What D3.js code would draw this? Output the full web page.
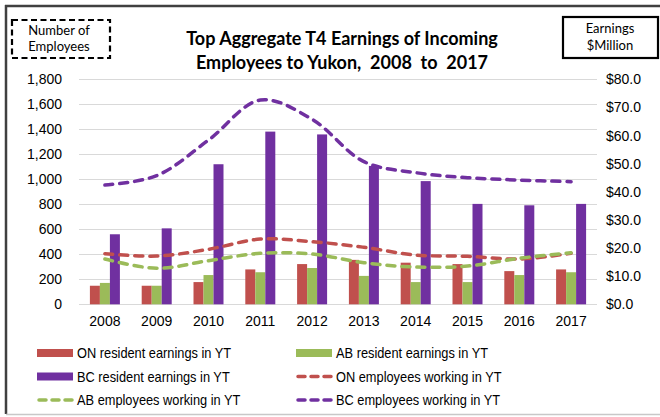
<!DOCTYPE html>
<html>
<head>
<meta charset="utf-8">
<script src="https://cdn.jsdelivr.net/npm/d3@7"></script>
<style>
  body { margin: 0; background: #fff; }
  svg { display: block; }
  .tick text { font-family: "Liberation Sans", Arial, sans-serif; font-size: 14px; fill: #000; }
  .grid line { stroke: #d9d9d9; stroke-width: 1; }
  .legend text { font-family: "Liberation Sans", Arial, sans-serif; font-size: 14px; fill: #000; }
</style>
</head>
<body>
<div id="chart"></div>
<script>
// data
var years = ["2008", "2009", "2010", "2011", "2012", "2013", "2014", "2015", "2016", "2017"];
// earnings, $ million (right axis)
var onEarnings = [6.6, 6.6, 7.9, 12.4, 14.3, 15.8, 14.8, 14.3, 11.8, 12.4];
var abEarnings = [7.6, 6.6, 10.4, 11.4, 12.9, 10.1, 7.9, 7.9, 10.4, 11.4];
var bcEarnings = [24.9, 27.0, 49.8, 61.4, 60.4, 49.2, 43.8, 35.7, 35.2, 35.7];
// employees (left axis)
var onEmployees = [405, 386, 440, 522, 501, 456, 394, 384, 362, 408];
var abEmployees = [362, 288, 349, 408, 402, 333, 298, 306, 368, 413];
var bcEmployees = [954, 1029, 1314, 1634, 1480, 1141, 1053, 1013, 994, 981];

var leftTicks = [0, 200, 400, 600, 800, 1000, 1200, 1400, 1600, 1800];
var rightTicks = [0, 10, 20, 30, 40, 50, 60, 70, 80];

var red = "#c0504d", green = "#9bbb59", purple = "#7030a0";

var width = 660, height = 417;
var svg = d3.select("#chart").append("svg")
  .attr("width", width)
  .attr("height", height);

// frame
svg.append("line").attr("x1", 6).attr("x2", 6).attr("y1", 5).attr("y2", 414)
  .attr("stroke", "#404040").attr("stroke-width", 2.5);
svg.append("line").attr("x1", 5).attr("x2", 660).attr("y1", 6).attr("y2", 6)
  .attr("stroke", "#404040").attr("stroke-width", 2.5);
svg.append("line").attr("x1", 6).attr("x2", 660).attr("y1", 414.5).attr("y2", 414.5)
  .attr("stroke", "#c8c8c8").attr("stroke-width", 1.5);

var x0 = 79, x1 = 597, yTop = 79.3, yBot = 304.3;

var x = d3.scaleBand().domain(years).range([x0, x1]);
var xs = d3.scaleBand().domain(["on", "ab", "bc"])
  .range([x.bandwidth() / 2 - 15, x.bandwidth() / 2 + 15]);
var yL = d3.scaleLinear().domain([0, 1800]).range([yBot, yTop]);
var yR = d3.scaleLinear().domain([0, 80]).range([yBot, yTop]);

// gridlines
svg.append("g").attr("class", "grid")
  .selectAll("line").data(leftTicks).enter().append("line")
  .attr("x1", x0).attr("x2", x1)
  .attr("y1", function(d) { return Math.round(yL(d)) + 0.5; })
  .attr("y2", function(d) { return Math.round(yL(d)) + 0.5; });

// axes
var fmtL = d3.format(",");
var gL = svg.append("g").attr("transform", "translate(" + x0 + ",0)")
  .call(d3.axisLeft(yL).tickValues(leftTicks).tickFormat(fmtL).tickSize(0).tickPadding(17));
gL.select(".domain").remove();

var gR = svg.append("g").attr("transform", "translate(" + x1 + ",0)")
  .call(d3.axisRight(yR).tickValues(rightTicks).tickFormat(function(d) { return "$" + d.toFixed(1); }).tickSize(0).tickPadding(9));
gR.select(".domain").remove();

var gX = svg.append("g").attr("transform", "translate(0," + yBot + ")")
  .call(d3.axisBottom(x).tickSize(0).tickPadding(12));
gX.select(".domain").remove();

// bars
var series = [
  { key: "on", values: onEarnings, color: red },
  { key: "ab", values: abEarnings, color: green },
  { key: "bc", values: bcEarnings, color: purple }
];
series.forEach(function(s) {
  svg.append("g").selectAll("rect").data(s.values).enter().append("rect")
    .attr("x", function(d, i) { return x(years[i]) + xs(s.key); })
    .attr("width", xs.bandwidth())
    .attr("y", function(d) { return yR(d); })
    .attr("height", function(d) { return yBot - yR(d); })
    .attr("fill", s.color);
});

// lines
var line = d3.line()
  .x(function(d, i) { return x(years[i]) + x.bandwidth() / 2; })
  .y(function(d) { return yL(d); })
  .curve(d3.curveCatmullRom.alpha(0.5));

[[onEmployees, red], [abEmployees, green], [bcEmployees, purple]].forEach(function(p) {
  svg.append("path").datum(p[0])
    .attr("d", line)
    .attr("fill", "none")
    .attr("stroke", p[1])
    .attr("stroke-width", 3.5)
    .attr("stroke-linecap", "round")
    .attr("stroke-dasharray", "8,7");
});

// title
var title = svg.append("text")
  .attr("text-anchor", "middle")
  .style("font-family", "Lato, 'Open Sans', sans-serif")
  .style("font-weight", "bold")
  .style("font-size", "18px")
  .style("white-space", "pre");
title.append("tspan").attr("x", 342).attr("y", 45).text("Top Aggregate T4 Earnings of Incoming");
title.append("tspan").attr("x", 342).attr("y", 69).text("Employees to Yukon,  2008  to  2017");

// axis title boxes
svg.append("rect").attr("x", 12).attr("y", 20).attr("width", 98).attr("height", 38)
  .attr("fill", "none").attr("stroke", "#000").attr("stroke-width", 2.2)
  .attr("stroke-dasharray", "6,3.5");
var lt = svg.append("text").attr("text-anchor", "middle")
  .style("font-family", "Lato, 'Open Sans', sans-serif").style("font-size", "13px");
lt.append("tspan").attr("x", 59).attr("y", 35).text("Number of");
lt.append("tspan").attr("x", 59).attr("y", 51).text("Employees");

svg.append("rect").attr("x", 563).attr("y", 17).attr("width", 95).attr("height", 41)
  .attr("fill", "none").attr("stroke", "#000").attr("stroke-width", 2.2);
var rt = svg.append("text").attr("text-anchor", "middle")
  .style("font-family", "Lato, 'Open Sans', sans-serif").style("font-size", "13px");
rt.append("tspan").attr("x", 610).attr("y", 33).text("Earnings");
rt.append("tspan").attr("x", 610).attr("y", 50).text("$Million");

// legend
var legendItems = [
  { label: "ON resident earnings in YT", color: red, type: "bar" },
  { label: "AB resident earnings in YT", color: green, type: "bar" },
  { label: "BC resident earnings in YT", color: purple, type: "bar" },
  { label: "ON employees working in YT", color: red, type: "line" },
  { label: "AB employees working in YT", color: green, type: "line" },
  { label: "BC employees working in YT", color: purple, type: "line" }
];
var legend = svg.append("g").attr("class", "legend");
var item = legend.selectAll("g").data(legendItems).enter().append("g")
  .attr("transform", function(d, i) {
    return "translate(" + (i % 2 ? 296 : 37) + "," + (353 + Math.floor(i / 2) * 23.5) + ")";
  });
item.filter(function(d) { return d.type === "bar"; }).append("rect")
  .attr("x", 0).attr("y", -4).attr("width", 36).attr("height", 8)
  .attr("fill", function(d) { return d.color; });
item.filter(function(d) { return d.type === "line"; }).append("line")
  .attr("x1", 2).attr("x2", 36).attr("y1", 0).attr("y2", 0)
  .attr("stroke", function(d) { return d.color; })
  .attr("stroke-width", 3.5).attr("stroke-linecap", "round")
  .attr("stroke-dasharray", "7,6");
item.append("text")
  .attr("transform", "translate(40,5) scale(0.915,1)")
  .text(function(d) { return d.label; });
</script>
</body>
</html>
